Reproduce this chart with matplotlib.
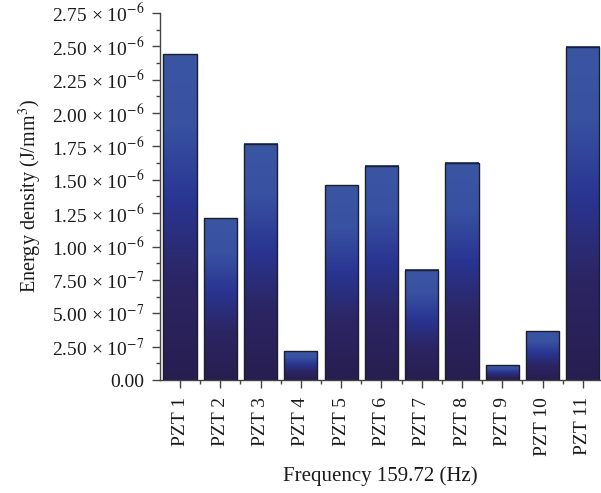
import numpy as np
import matplotlib
matplotlib.use("Agg")
import matplotlib.pyplot as plt
from matplotlib.colors import LinearSegmentedColormap
from matplotlib.ticker import FixedLocator, MultipleLocator

plt.rcParams['font.family'] = ['Liberation Serif', 'DejaVu Serif']
plt.rcParams['mathtext.fontset'] = 'stix'

categories = ["PZT 1", "PZT 2", "PZT 3", "PZT 4", "PZT 5", "PZT 6",
              "PZT 7", "PZT 8", "PZT 9", "PZT 10", "PZT 11"]
values = [2.44e-6, 1.21e-6, 1.77e-6, 0.215e-6, 1.46e-6, 1.605e-6,
          0.825e-6, 1.625e-6, 0.11e-6, 0.365e-6, 2.495e-6]
ytick_vals = [0, 0.25e-6, 0.5e-6, 0.75e-6, 1.0e-6, 1.25e-6, 1.5e-6,
              1.75e-6, 2.0e-6, 2.25e-6, 2.5e-6, 2.75e-6]
ytick_labels = ["0.00", "2.50 × 10$^{-7}$", "5.00 × 10$^{-7}$",
                "7.50 × 10$^{-7}$", "1.00 × 10$^{-6}$", "1.25 × 10$^{-6}$",
                "1.50 × 10$^{-6}$", "1.75 × 10$^{-6}$", "2.00 × 10$^{-6}$",
                "2.25 × 10$^{-6}$", "2.50 × 10$^{-6}$", "2.75 × 10$^{-6}$"]

cmap = LinearSegmentedColormap.from_list(
    "grad", [(0.0, "#271e50"), (0.3, "#2c2563"), (0.55, "#293592"),
             (0.78, "#3851a1"), (1.0, "#3a56a3")])

fig = plt.figure(figsize=(6.01, 4.93), dpi=100)
ax = fig.add_axes([0.266, 0.229, 0.734, 0.745])

x = np.arange(len(categories))
width = 0.82
grad = np.linspace(0, 1, 256).reshape(-1, 1)
bars = ax.bar(x, values, width=width, facecolor="none", edgecolor="#1e1e2a",
              linewidth=1.0, zorder=3)
for b in bars:
    x0 = b.get_x()
    h = b.get_height()
    ax.imshow(grad, cmap=cmap, origin="lower", aspect="auto",
              extent=(x0, x0 + b.get_width(), 0, h), zorder=2,
              interpolation="bilinear")

ax.set_xlim(-0.5, 10.45)
ax.set_ylim(0, 2.75e-6)

ax.set_yticks(ytick_vals)
ax.set_yticklabels(ytick_labels)
ax.yaxis.set_minor_locator(MultipleLocator(0.125e-6))
ax.set_xticks(x)
ax.set_xticklabels(categories, rotation=90)
ax.xaxis.set_minor_locator(FixedLocator(np.arange(len(categories) - 1) + 0.5))

for s in ["top", "right"]:
    ax.spines[s].set_visible(False)
for s in ["left", "bottom"]:
    ax.spines[s].set_color("#444444")
    ax.spines[s].set_linewidth(1.0)

ax.tick_params(axis="both", which="major", direction="out", length=6,
               width=1, color="#444444", labelsize=14, labelcolor="#1a1a1a")
ax.tick_params(axis="both", which="minor", direction="out", length=3,
               width=1, color="#444444")
ax.tick_params(axis="x", which="major", pad=6)
ax.tick_params(axis="y", which="major", pad=5)

ax.set_xlabel("Frequency 159.72 (Hz)", fontsize=15, color="#1a1a1a", labelpad=8)
ax.set_ylabel("Energy density (J/mm$^3$)", fontsize=14.5, color="#1a1a1a", labelpad=6)

fig.savefig("out.png", dpi=100)
